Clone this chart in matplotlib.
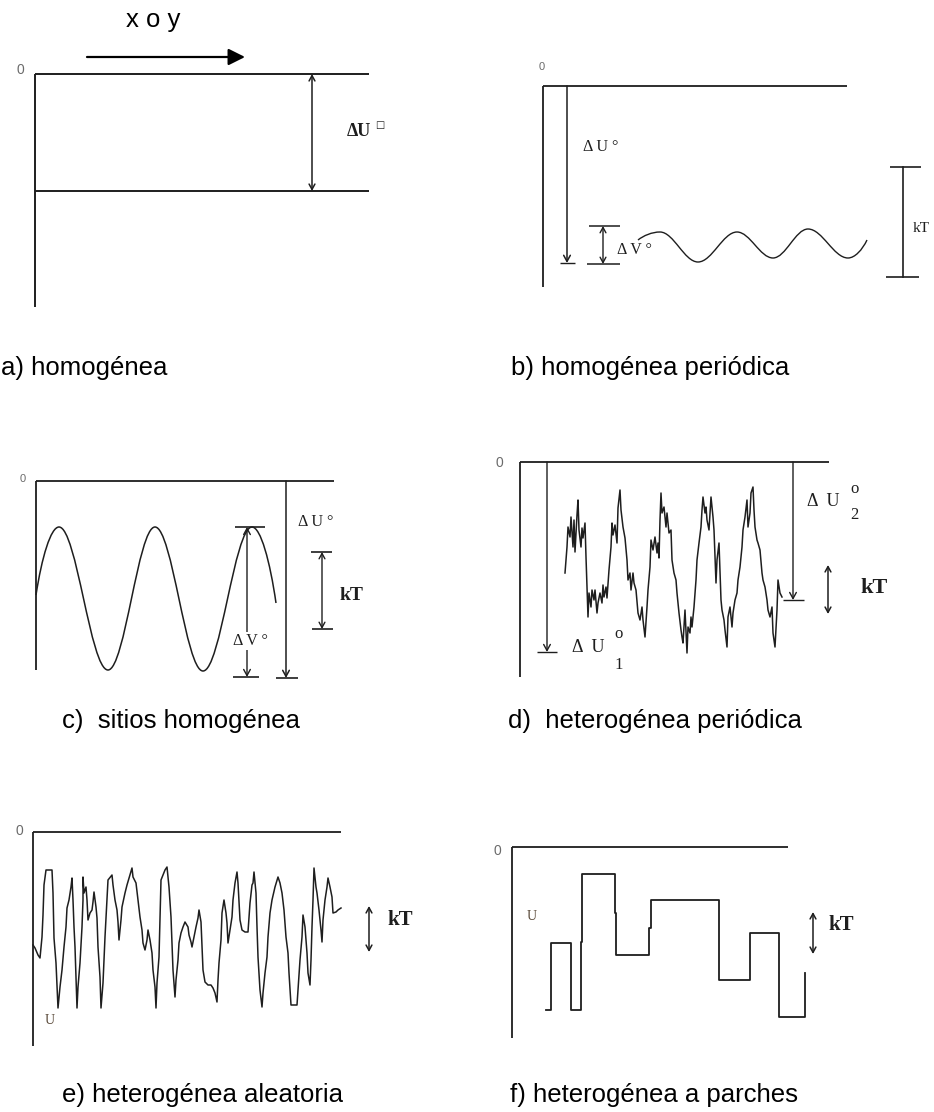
import matplotlib
matplotlib.use("Agg")
import matplotlib.pyplot as plt
from matplotlib.path import Path
from matplotlib.patches import PathPatch

# ---------------- data (x along surface, u = depth below 0, px) -------------
# b) periodic homogeneous: extrema of the small wave
wave_b_x = [95, 117, 155, 194, 230, 265, 305, 324]
wave_b_u = [154, 146, 176, 146, 172, 143, 172, 154]

# c) homogeneous sites: extrema of the large wave
wave_c_x = [0, 23, 72, 119, 167, 216, 240]
wave_c_u = [114, 46, 189, 46, 190, 46, 122]

# d) heterogeneous periodic: noisy wave
noise_d_x = [45, 47, 48, 50, 51, 53, 54, 55, 57, 58, 59, 61, 62, 63, 65, 66, 67, 68, 69, 71,
             72, 74, 75, 77, 78, 80, 82, 83, 84, 86, 87, 89, 91, 92, 93, 95, 97, 98, 100, 101,
             103, 105, 107, 108, 110, 111, 113, 114, 116, 118, 120, 122, 123, 125, 127, 128, 130, 131, 133, 135,
             137, 138, 139, 140, 141, 142, 144, 146, 147, 149, 151, 152, 154, 156, 157, 159, 161, 162, 163, 165,
             167, 168, 170, 171, 172, 174, 176, 177, 179, 181, 182, 183, 185, 186, 187, 189, 190, 191, 193, 194,
             195, 196, 197, 199, 200, 201, 202, 204, 205, 207, 208, 210, 212, 213, 215, 217, 218, 220, 222, 223,
             225, 227, 228, 230, 231, 233, 234, 235, 237, 238, 240, 242, 243, 245, 247, 248, 250, 252, 253, 255,
             257, 258, 260, 262]
noise_d_u = [111, 85, 65, 75, 55, 85, 58, 90, 53, 38, 68, 85, 66, 76, 61, 95, 125, 155, 131, 145,
             128, 138, 128, 151, 141, 131, 141, 123, 135, 125, 136, 108, 85, 61, 73, 63, 81, 46, 28, 48,
             65, 76, 98, 118, 111, 128, 111, 121, 128, 151, 158, 145, 158, 175, 145, 128, 105, 78, 88, 75,
             91, 81, 96, 58, 31, 51, 45, 65, 51, 71, 68, 98, 111, 118, 131, 151, 168, 175, 181, 148,
             191, 165, 171, 155, 165, 145, 118, 98, 81, 65, 48, 35, 51, 45, 58, 68, 51, 35, 55, 68,
             95, 121, 98, 81, 111, 138, 148, 158, 168, 185, 155, 145, 165, 151, 138, 131, 118, 105, 85, 68,
             55, 38, 65, 51, 31, 25, 48, 65, 78, 81, 88, 111, 118, 125, 138, 148, 155, 145, 171, 185,
             148, 118, 131, 135]

# e) heterogeneous random: noisy line
noise_e_x = [0, 2, 5, 7, 9, 10, 11, 13, 19, 20, 21, 23, 24, 25, 27, 29, 30, 31, 33, 34,
             36, 38, 39, 40, 41, 42, 43, 44, 45, 47, 49, 50, 50, 51, 53, 54, 55, 57, 59, 60,
             61, 63, 64, 65, 67, 68, 70, 71, 72, 74, 75, 79, 80, 82, 84, 85, 86, 88, 89, 92,
             94, 97, 99, 100, 103, 105, 107, 109, 110, 112, 114, 115, 117, 119, 120, 122, 123, 124, 126, 127,
             128, 132, 134, 136, 138, 139, 140, 142, 143, 145, 146, 148, 150, 152, 155, 156, 158, 159, 161, 163,
             165, 166, 168, 169, 170, 172, 175, 178, 180, 182, 184, 185, 186, 188, 189, 191, 193, 194, 195, 197,
             199, 200, 202, 204, 205, 207, 209, 212, 215, 217, 219, 220, 221, 223, 224, 225, 227, 229, 230, 232,
             234, 235, 237, 239, 242, 245, 247, 249, 251, 253, 255, 256, 258, 264, 265, 267, 269, 270, 272, 274,
             275, 277, 278, 279, 280, 281, 283, 284, 286, 288, 289, 290, 292, 294, 295, 297, 299, 300, 303, 305,
             308]
noise_e_u = [113, 116, 123, 126, 105, 83, 53, 38, 38, 61, 106, 131, 153, 176, 155, 138, 126, 115, 95, 76,
             68, 55, 46, 68, 95, 115, 145, 176, 155, 131, 95, 68, 45, 61, 55, 68, 88, 81, 78, 70,
             60, 75, 86, 115, 145, 176, 151, 128, 105, 68, 48, 43, 53, 68, 78, 90, 108, 88, 75, 61,
             53, 43, 36, 45, 51, 68, 85, 98, 111, 118, 108, 98, 108, 121, 138, 155, 176, 151, 125, 85,
             48, 38, 35, 55, 85, 111, 138, 165, 148, 128, 111, 101, 95, 90, 95, 103, 110, 115, 105, 95,
             86, 78, 90, 115, 138, 150, 153, 153, 156, 161, 170, 148, 131, 108, 81, 68, 81, 91, 111, 98,
             85, 68, 51, 40, 51, 88, 98, 100, 100, 71, 53, 51, 40, 61, 95, 125, 158, 175, 161, 141,
             125, 105, 81, 68, 55, 45, 51, 61, 78, 105, 121, 141, 173, 173, 158, 128, 105, 83, 95, 121,
             141, 153, 128, 95, 68, 36, 55, 61, 78, 98, 110, 88, 68, 55, 46, 55, 65, 81, 80, 78,
             76]

# f) heterogeneous patches: step outline
patch_f_x = [34, 39, 39, 59, 59, 69, 69, 70, 70, 103, 103, 104, 104, 137, 137, 139, 139,
             207, 207, 238, 238, 267, 267, 293, 293]
patch_f_u = [163, 163, 96, 96, 163, 163, 95, 95, 27, 27, 66, 66, 108, 108, 81, 81, 53,
             53, 133, 133, 86, 86, 170, 170, 126]

captions = ["a) homogénea", "b) homogénea periódica", "c)  sitios homogénea",
            "d)  heterogénea periódica", "e) heterogénea aleatoria", "f) heterogénea a parches"]

# ---------------- figure ----------------
W, H = 934, 1112
fig = plt.figure(figsize=(W / 100, H / 100), dpi=100)
fig.patch.set_facecolor("white")

LC = "#1e1e1e"
SERIF = ["Liberation Serif", "DejaVu Serif"]
SANS = ["Liberation Sans", "DejaVu Sans"]
CAP_FS = 18.5


def panel(x0, y0):
    ax = fig.add_axes([0, 0, 1, 1])
    ax.set_xlim(-x0, W - x0)
    ax.set_ylim(H - y0, -y0)
    ax.axis("off")
    ax.patch.set_alpha(0)
    return ax


def frame(ax, xr, ud, lw=1.4):
    ax.plot([0, xr], [0, 0], color=LC, lw=lw, solid_capstyle="butt")
    ax.plot([0, 0], [0, ud], color=LC, lw=lw, solid_capstyle="butt")


def hline(ax, x1, x2, u, lw=1.2):
    ax.plot([x1, x2], [u, u], color=LC, lw=lw, solid_capstyle="butt")


def varrow(ax, x, u0, u1, style="<->", lw=1.1, ms=8):
    ax.annotate("", xy=(x, u1), xytext=(x, u0),
                arrowprops=dict(arrowstyle=f"{style},head_length=0.55,head_width=0.3",
                                color=LC, lw=lw, shrinkA=0, shrinkB=0, mutation_scale=ms))


def smooth(ax, xs, us, lw=1.1):
    verts = [(xs[0], us[0])]
    codes = [Path.MOVETO]
    n = len(xs)
    for i in range(n - 1):
        x0, u0, x1, u1 = xs[i], us[i], xs[i + 1], us[i + 1]
        dx = x1 - x0
        if i == 0:
            c1 = (x0 + 0.25 * dx, u0 + 0.55 * (u1 - u0))
        else:
            c1 = (x0 + 0.36 * dx, u0)
        if i == n - 2:
            c2 = (x1 - 0.25 * dx, u1 - 0.55 * (u1 - u0))
        else:
            c2 = (x1 - 0.36 * dx, u1)
        verts += [c1, c2, (x1, u1)]
        codes += [Path.CURVE4] * 3
    ax.add_patch(PathPatch(Path(verts, codes), fill=False, edgecolor=LC, lw=lw))


def zero(ax, x, u, fs=9):
    ax.text(x, u, "0", fontsize=fs, family=SANS, color="#6b6b6b", ha="left", va="center")


# ---------------- a) ----------------
ax = panel(35, 74)
frame(ax, 334, 233)
hline(ax, 0, 334, 117, lw=1.4)
varrow(ax, 277, 0, 117, "<->", lw=1.1, ms=7)
ax.text(312, 58, "ΔU", fontsize=13, family=SERIF, weight="bold", color=LC, ha="left", va="center")
ax.text(340, 51, "□", fontsize=7, family=["DejaVu Sans"], weight="bold", color=LC, ha="left", va="center")
zero(ax, -19, -4, fs=10)
ax.text(118, -54, "x o y", fontsize=CAP_FS, family=SANS, color="black", ha="center", va="center")
ax.annotate("", xy=(210, -17), xytext=(52, -17),
            arrowprops=dict(arrowstyle="-|>,head_length=0.5,head_width=0.25", color="black",
                            lw=1.6, shrinkA=0, shrinkB=0, mutation_scale=20))
ax.text(-34, 301, captions[0], fontsize=CAP_FS, family=SANS, color="black", ha="left", va="baseline")

# ---------------- b) ----------------
ax = panel(543, 86)
frame(ax, 304, 201, lw=1.3)
varrow(ax, 24, 0, 177, "->", lw=1.1, ms=8)
hline(ax, 17, 32, 177, lw=1.0)
ax.text(40, 61, "Δ U °", fontsize=11.5, family=SERIF, color=LC, ha="left", va="center")
varrow(ax, 60, 140, 178, "<->", lw=1.0, ms=7)
hline(ax, 46, 77, 140, lw=1.1)
hline(ax, 44, 77, 178, lw=1.1)
ax.text(74, 164, "Δ V °", fontsize=11.5, family=SERIF, color=LC, ha="left", va="center")
smooth(ax, wave_b_x, wave_b_u, lw=1.0)
ax.plot([360, 360], [81, 191], color=LC, lw=1.2)
hline(ax, 347, 378, 81, lw=1.2)
hline(ax, 343, 376, 191, lw=1.2)
ax.text(370, 142, "kT", fontsize=11, family=SERIF, color=LC, ha="left", va="center")
zero(ax, -4, -19, fs=8)
ax.text(-32, 289, captions[1], fontsize=CAP_FS, family=SANS, color="black", ha="left", va="baseline")

# ---------------- c) ----------------
ax = panel(36, 481)
frame(ax, 298, 189, lw=1.3)
smooth(ax, wave_c_x, wave_c_u, lw=1.1)
varrow(ax, 211, 46, 196, "<->", lw=1.0, ms=8)
hline(ax, 199, 229, 46, lw=1.2)
hline(ax, 197, 223, 196, lw=1.2)
ax.text(197, 160, "Δ V °", fontsize=11.5, family=SERIF, color=LC, ha="left", va="center",
        bbox=dict(facecolor="white", edgecolor="none", pad=1.0))
varrow(ax, 250, 0, 197, "->", lw=1.1, ms=8)
hline(ax, 240, 262, 197, lw=1.2)
ax.text(262, 41, "Δ U °", fontsize=11.5, family=SERIF, color=LC, ha="left", va="center")
varrow(ax, 286, 71, 148, "<->", lw=1.0, ms=7)
hline(ax, 275, 296, 71, lw=1.2)
hline(ax, 276, 297, 148, lw=1.2)
ax.text(304, 114, "kT", fontsize=14, family=SERIF, weight="bold", color=LC, ha="left", va="center")
zero(ax, -16, -2, fs=8)
ax.text(26, 247, captions[2], fontsize=CAP_FS, family=SANS, color="black", ha="left", va="baseline")

# ---------------- d) ----------------
ax = panel(520, 462)
frame(ax, 309, 215, lw=1.3)
ax.plot(noise_d_x, noise_d_u, color=LC, lw=1.1)
varrow(ax, 27, 0, 190, "->", lw=1.0, ms=8)
hline(ax, 17, 37, 190, lw=1.0)
ax.text(52, 185, "Δ  U", fontsize=13, family=SERIF, color=LC, ha="left", va="center")
ax.text(94, 172, "o", fontsize=12, family=SERIF, color=LC, ha="left", va="center")
ax.text(94, 203, "1", fontsize=12, family=SERIF, color=LC, ha="left", va="center")
varrow(ax, 273, 0, 138, "->", lw=1.0, ms=8)
hline(ax, 263, 284, 138, lw=1.0)
ax.text(287, 40, "Δ  U", fontsize=13, family=SERIF, color=LC, ha="left", va="center")
ax.text(330, 27, "o", fontsize=12, family=SERIF, color=LC, ha="left", va="center")
ax.text(330, 53, "2", fontsize=12, family=SERIF, color=LC, ha="left", va="center")
varrow(ax, 308, 103, 152, "<->", lw=1.1, ms=7)
ax.text(340, 126, "kT", fontsize=16, family=SERIF, weight="bold", color=LC, ha="left", va="center")
zero(ax, -24, 1, fs=10)
ax.text(-12, 266, captions[3], fontsize=CAP_FS, family=SANS, color="black", ha="left", va="baseline")

# ---------------- e) ----------------
ax = panel(33, 832)
frame(ax, 308, 214, lw=1.3)
ax.plot(noise_e_x, noise_e_u, color=LC, lw=1.1)
varrow(ax, 336, 74, 120, "<->", lw=1.1, ms=7)
ax.text(354, 88, "kT", fontsize=15, family=SERIF, weight="bold", color=LC, ha="left", va="center")
ax.text(12, 189, "U", fontsize=10, family=SERIF, color="#5a4a3a", ha="left", va="center")
zero(ax, -18, -1, fs=10)
ax.text(29, 270, captions[4], fontsize=CAP_FS, family=SANS, color="black", ha="left", va="baseline")

# ---------------- f) ----------------
ax = panel(512, 847)
frame(ax, 276, 191, lw=1.3)
ax.plot(patch_f_x, patch_f_u, color=LC, lw=1.3)
varrow(ax, 301, 65, 107, "<->", lw=1.1, ms=7)
ax.text(316, 78, "kT", fontsize=15, family=SERIF, weight="bold", color=LC, ha="left", va="center")
ax.text(15, 69, "U", fontsize=10, family=SERIF, color="#5a4a3a", ha="left", va="center")
zero(ax, -18, 4, fs=10)
ax.text(-2, 255, captions[5], fontsize=CAP_FS, family=SANS, color="black", ha="left", va="baseline")

fig.savefig("out.png", dpi=100, facecolor="white")
